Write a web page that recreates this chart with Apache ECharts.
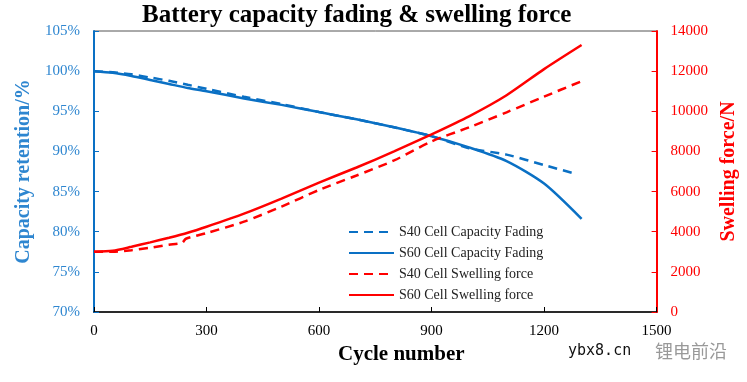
<!DOCTYPE html>
<html>
<head>
<meta charset="utf-8">
<script src="https://cdn.jsdelivr.net/npm/echarts@6/dist/echarts.min.js"></script>
<style>html,body{margin:0;padding:0;background:#fff}#c{width:747px;height:382px}</style>
</head>
<body>
<div id="c"></div>
<script>
const xTicks = [0, 300, 600, 900, 1200, 1500];
const capTicks = [70, 75, 80, 85, 90, 95, 100, 105];
const forceTicks = [0, 2000, 4000, 6000, 8000, 10000, 12000, 14000];

const cyclesS40Cap = [0, 50, 100, 150, 200, 250, 300, 400, 500, 600, 700, 800, 900, 1000, 1100, 1200, 1285];
const capS40 = [100, 99.85, 99.6, 99.2, 98.8, 98.3, 97.8, 96.8, 95.9, 94.9, 94.0, 93.0, 91.9, 90.4, 89.6, 88.3, 87.2];

const cyclesS60Cap = [0, 50, 100, 150, 200, 250, 300, 400, 500, 600, 700, 800, 900, 1000, 1100, 1200, 1300];
const capS60 = [100, 99.8, 99.4, 98.9, 98.4, 97.9, 97.5, 96.6, 95.8, 94.9, 94.0, 93.0, 91.9, 90.5, 88.8, 86.0, 81.6];

const cyclesS40Force = [0, 50, 100, 150, 200, 235, 245, 300, 400, 500, 600, 700, 800, 900, 1000, 1100, 1200, 1300];
const forceS40 = [3000, 3000, 3080, 3200, 3350, 3450, 3650, 3930, 4500, 5250, 6080, 6800, 7550, 8500, 9200, 9950, 10730, 11500];

const cyclesS60Force = [0, 50, 100, 150, 200, 250, 300, 400, 500, 600, 700, 800, 900, 1000, 1100, 1200, 1300];
const forceS60 = [3000, 3050, 3250, 3470, 3700, 3950, 4250, 4900, 5650, 6450, 7200, 8000, 8850, 9750, 10800, 12100, 13300];

const names = ['S40 Cell Capacity Fading', 'S60 Cell Capacity Fading', 'S40 Cell Swelling force', 'S60 Cell Swelling force'];

const BLUE = '#0A70C4';
const BLUE_L = '#2E86D0';
const RED = '#FF0000';
const SERIF = '"Liberation Serif", "Times New Roman", serif';

function pairs(xs, ys) { return xs.map((x, i) => [x, ys[i]]); }

const chart = echarts.init(document.getElementById('c'), null, {renderer: 'canvas'});
chart.setOption({
  animation: false,
  backgroundColor: '#fff',
  title: {
    text: 'Battery capacity fading & swelling force',
    left: 137, top: -2,
    textStyle: {fontFamily: SERIF, fontWeight: 'bold', fontSize: 25, color: '#000'}
  },
  grid: {left: 94, right: 89, top: 31, bottom: 70, show: true, borderColor: '#555', borderWidth: 1},
  legend: {
    orient: 'vertical', left: 343, top: 220,
    itemWidth: 45, itemHeight: 14, itemGap: 7,
    itemStyle: {opacity: 0},
    textStyle: {fontFamily: SERIF, fontSize: 14, color: '#222'},
    data: names
  },
  xAxis: {
    type: 'value', min: 0, max: 1500, interval: 300,
    name: 'Cycle number', nameLocation: 'middle', nameGap: 26,
    nameTextStyle: {fontFamily: SERIF, fontWeight: 'bold', fontSize: 21, color: '#000', padding: [0, 0, 0, 52]},
    axisLine: {show: true, lineStyle: {color: '#000', width: 1.5}},
    axisTick: {show: true, inside: true, length: 5, lineStyle: {color: '#000'}},
    axisLabel: {fontFamily: SERIF, fontSize: 15, color: '#000', margin: 12, formatter: v => String(v)},
    splitLine: {show: false}
  },
  yAxis: [{
    type: 'value', min: 70, max: 105, interval: 5, position: 'left',
    name: 'Capacity retention/%', nameLocation: 'middle', nameGap: 57, nameRotate: 90,
    nameTextStyle: {fontFamily: SERIF, fontWeight: 'bold', fontSize: 20, color: BLUE_L},
    axisLine: {show: true, lineStyle: {color: BLUE, width: 2}},
    axisTick: {show: true, inside: true, length: 5, lineStyle: {color: BLUE}},
    axisLabel: {fontFamily: SERIF, fontSize: 15, color: BLUE_L, margin: 14, formatter: v => v + '%'},
    splitLine: {show: false}
  }, {
    type: 'value', min: 0, max: 14000, interval: 2000, position: 'right',
    name: 'Swelling force/N', nameLocation: 'middle', nameGap: 55, nameRotate: 90,
    nameTextStyle: {fontFamily: SERIF, fontWeight: 'bold', fontSize: 20, color: RED},
    axisLine: {show: true, lineStyle: {color: RED, width: 2}},
    axisTick: {show: true, inside: true, length: 5, lineStyle: {color: RED}},
    axisLabel: {fontFamily: SERIF, fontSize: 15, color: RED, margin: 14, formatter: v => String(v)},
    splitLine: {show: false}
  }],
  series: [
    {name: names[0], type: 'line', yAxisIndex: 0, showSymbol: false, symbol: 'none', smooth: 0.25,
     data: pairs(cyclesS40Cap, capS40), lineStyle: {color: BLUE, width: 2.5, type: [9, 6]}, itemStyle: {color: BLUE}},
    {name: names[1], type: 'line', yAxisIndex: 0, showSymbol: false, symbol: 'none', smooth: 0.25,
     data: pairs(cyclesS60Cap, capS60), lineStyle: {color: BLUE, width: 2.5}, itemStyle: {color: BLUE}},
    {name: names[2], type: 'line', yAxisIndex: 1, showSymbol: false, symbol: 'none', smooth: 0.25,
     data: pairs(cyclesS40Force, forceS40), lineStyle: {color: RED, width: 2.5, type: [9, 6]}, itemStyle: {color: RED}},
    {name: names[3], type: 'line', yAxisIndex: 1, showSymbol: false, symbol: 'none', smooth: 0.25,
     data: pairs(cyclesS60Force, forceS60), lineStyle: {color: RED, width: 2.5}, itemStyle: {color: RED}}
  ],
  graphic: [
    {type: 'text', left: 568, top: 344, style: {text: 'ybx8.cn', font: '15px "DejaVu Sans Mono", monospace', fill: '#111'}},
    {type: 'text', left: 655, top: 342, style: {text: '锂电前沿', font: '18px "Noto Sans CJK SC", sans-serif', fill: '#999'}}
  ]
});
</script>
</body>
</html>
